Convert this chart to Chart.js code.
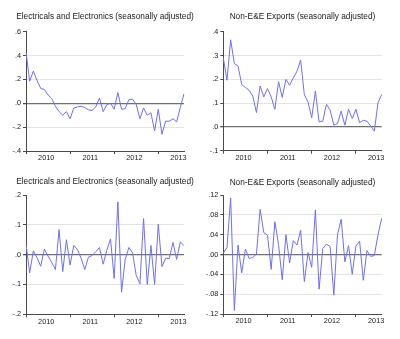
<!DOCTYPE html>
<html>
  <head>
    <title>E&amp;E and Non-E&amp;E Exports</title>
    <script src="https://cdn.jsdelivr.net/npm/chart.js"></script>
    <style>
      body {
        margin: 0;
        background: #ffffff;
        font-family: "Liberation Sans", Arial, sans-serif;
      }

      .page {
        position: relative;
        width: 400px;
        height: 339px;
      }

      canvas {
        position: absolute;
      }

      .panel-title {
        position: absolute;
        width: 220px;
        text-align: center;
        font-size: 8.3px;
        line-height: 10px;
        color: #1a1a1a;
        white-space: nowrap;
      }
    </style>
  </head>
  <body>
    <div class="page" id="page">
      <canvas id="c1" width="200" height="170" style="left: 0; top: 0"></canvas>
      <canvas id="c2" width="200" height="170" style="left: 200px; top: 0"></canvas>
      <canvas id="c3" width="200" height="169" style="left: 0; top: 170px"></canvas>
      <canvas id="c4" width="200" height="169" style="left: 200px; top: 170px"></canvas>
    </div>

    <script>
      // monthly periods, 2010M01 .. 2013M08
      const months = [
        "2010M01", "2010M02", "2010M03", "2010M04", "2010M05", "2010M06",
        "2010M07", "2010M08", "2010M09", "2010M10", "2010M11", "2010M12",
        "2011M01", "2011M02", "2011M03", "2011M04", "2011M05", "2011M06",
        "2011M07", "2011M08", "2011M09", "2011M10", "2011M11", "2011M12",
        "2012M01", "2012M02", "2012M03", "2012M04", "2012M05", "2012M06",
        "2012M07", "2012M08", "2012M09", "2012M10", "2012M11", "2012M12",
        "2013M01", "2013M02", "2013M03", "2013M04", "2013M05", "2013M06",
        "2013M07", "2013M08",
      ];

      const yearLabels = ["2010", "2011", "2012", "2013"];
      const yearLabelIndex = [5, 17, 29, 41];
      const yearTickIndex = [0, 12, 24, 36];

      const eeLevel = [
        0.43, 0.185, 0.27, 0.19, 0.125, 0.115, 0.07, 0.04, -0.025, -0.07,
        -0.1, -0.07, -0.13, -0.04, -0.03, -0.025, -0.035, -0.055, -0.06, -0.03,
        0.045, -0.07, -0.01, 0.0, -0.05, 0.09, -0.05, -0.045, 0.03, 0.035,
        -0.01, -0.13, -0.04, -0.1, -0.08, -0.23, -0.05, -0.26, -0.15, -0.15,
        -0.13, -0.155, -0.035, 0.08,
      ];
      const nonEeLevel = [
        0.29, 0.196, 0.366, 0.266, 0.256, 0.178, 0.166, 0.154, 0.13, 0.06,
        0.172, 0.126, 0.161, 0.126, 0.074, 0.19, 0.124, 0.2, 0.175, 0.206,
        0.234, 0.28, 0.135, 0.105, 0.038, 0.151, 0.021, 0.024, 0.095, 0.07,
        0.007, 0.014, 0.066, 0.007, 0.074, 0.035, 0.074, 0.018, 0.028, 0.024,
        0.004, -0.018, 0.102, 0.136,
      ];
      const eeChange = [
        0.035, -0.061, 0.013, -0.01, -0.039, 0.019, -0.005, -0.026, -0.05, 0.084,
        -0.057, 0.05, -0.035, 0.031, 0.017, -0.012, -0.05, -0.008, -0.003, 0.01,
        0.024, -0.032, 0.015, 0.053, -0.08, 0.177, -0.126, -0.016, 0.024, 0.006,
        -0.07, -0.098, 0.121, -0.1, 0.031, -0.1, 0.102, -0.04, -0.012, -0.013,
        0.041, -0.016, 0.043, 0.03,
      ];
      const nonEeChange = [
        0.003, 0.014, 0.114, -0.113, 0.019, -0.037, 0.011, -0.008, -0.006, 0.001,
        0.091, 0.044, 0.039, -0.03, 0.066, 0.02, -0.051, 0.04, -0.017, 0.028,
        0.019, 0.049, -0.055, 0.004, -0.026, 0.09, -0.07, 0.012, 0.021, 0.016,
        -0.082, 0.04, 0.071, -0.015, 0.018, -0.04, 0.017, 0.027, -0.052, 0.008,
        -0.004, -0.002, 0.04, 0.073,
      ];

      const eeLevelTicks = [-0.4, -0.2, 0, 0.2, 0.4, 0.6];
      const nonEeLevelTicks = [-0.1, 0, 0.1, 0.2, 0.3, 0.4];
      const eeChangeTicks = [-0.2, -0.1, 0, 0.1, 0.2];
      const nonEeChangeTicks = [-0.12, -0.08, -0.04, 0, 0.04, 0.08, 0.12];

      const eeTitle = "Electricals and Electronics (seasonally adjusted)";
      const nonEeTitle = "Non-E&E Exports (seasonally adjusted)";

      const lineColor = "#6f6ff4";
      const axisColor = "#4a4a4a";
      const gridColor = "#e3e3e3";
      const zeroColor = "#707070";
      const fontFamily = "'Liberation Sans', Arial, sans-serif";

      function fmt(v, decimals) {
        if (Math.abs(v) < 1e-9) return "." + "0".repeat(decimals);
        let s = Math.abs(v).toFixed(decimals).replace(/^0/, "");
        return (v < 0 ? "-" : "") + s;
      }

      // area = plot rectangle in canvas pixels
      function panel(id, left, top, title, values, yTicks, decimals, area, titleY) {
        const canvas = document.getElementById(id);
        const w = canvas.width;
        const h = canvas.height;

        const t = document.createElement("div");
        t.className = "panel-title";
        t.textContent = title;
        t.style.left = left + (area.left + area.right) / 2 - 110 + "px";
        t.style.top = top + titleY - 5 + "px";
        document.getElementById("page").appendChild(t);

        const yMin = yTicks[0];
        const yMax = yTicks[yTicks.length - 1];

        new Chart(canvas.getContext("2d"), {
          type: "line",
          data: {
            labels: months,
            datasets: [
              {
                data: values,
                borderColor: lineColor,
                borderWidth: 1,
                pointRadius: 0,
                tension: 0,
                fill: false,
              },
            ],
          },
          options: {
            responsive: false,
            animation: false,
            layout: {
              padding: { top: area.top, right: w - area.right, left: 0, bottom: 0 },
            },
            plugins: {
              legend: { display: false },
              tooltip: { enabled: false },
            },
            scales: {
              x: {
                type: "category",
                offset: false,
                afterFit: function (s) {
                  s.height = h - area.bottom;
                },
                border: { color: axisColor, width: 1 },
                grid: {
                  drawOnChartArea: false,
                  drawTicks: true,
                  tickLength: 3,
                  color: function (ctx) {
                    return yearTickIndex.includes(ctx.index) ? axisColor : "rgba(0,0,0,0)";
                  },
                },
                ticks: {
                  autoSkip: false,
                  maxRotation: 0,
                  minRotation: 0,
                  padding: 0,
                  labelOffset: (area.right - area.left) / (months.length - 1) / 2,
                  color: "#222",
                  font: { family: fontFamily, size: 7.3 },
                  callback: function (v, i) {
                    const k = yearLabelIndex.indexOf(i);
                    return k >= 0 ? yearLabels[k] : "";
                  },
                },
              },
              y: {
                min: yMin,
                max: yMax,
                afterFit: function (s) {
                  s.width = area.left;
                },
                afterBuildTicks: function (s) {
                  s.ticks = yTicks.map(function (v) {
                    return { value: v };
                  });
                },
                border: { color: axisColor, width: 1 },
                grid: {
                  tickLength: 3,
                  tickColor: axisColor,
                  color: function (ctx) {
                    const v = ctx.tick ? ctx.tick.value : null;
                    if (v === null) return gridColor;
                    if (Math.abs(v) < 1e-9) return zeroColor;
                    if (v === yMax || v === yMin) return "rgba(0,0,0,0)";
                    return gridColor;
                  },
                  lineWidth: function (ctx) {
                    const v = ctx.tick ? ctx.tick.value : 1;
                    return Math.abs(v) < 1e-9 ? 1.3 : 1;
                  },
                },
                ticks: {
                  padding: 2,
                  color: "#222",
                  font: { family: fontFamily, size: 7.3 },
                  callback: function (v) {
                    return fmt(v, decimals);
                  },
                },
              },
            },
          },
        });
      }

      panel("c1", 0, 0, eeTitle, eeLevel, eeLevelTicks, 1,
        { left: 26, right: 184, top: 31.7, bottom: 151 }, 16);
      panel("c2", 200, 0, nonEeTitle, nonEeLevel, nonEeLevelTicks, 1,
        { left: 23.3, right: 181.7, top: 31.7, bottom: 150.7 }, 16);
      panel("c3", 0, 170, eeTitle, eeChange, eeChangeTicks, 1,
        { left: 26, right: 184, top: 25, bottom: 144.3 }, 11);
      panel("c4", 200, 170, nonEeTitle, nonEeChange, nonEeChangeTicks, 2,
        { left: 23.3, right: 181.7, top: 25, bottom: 144 }, 11.5);
    </script>
  </body>
</html>
